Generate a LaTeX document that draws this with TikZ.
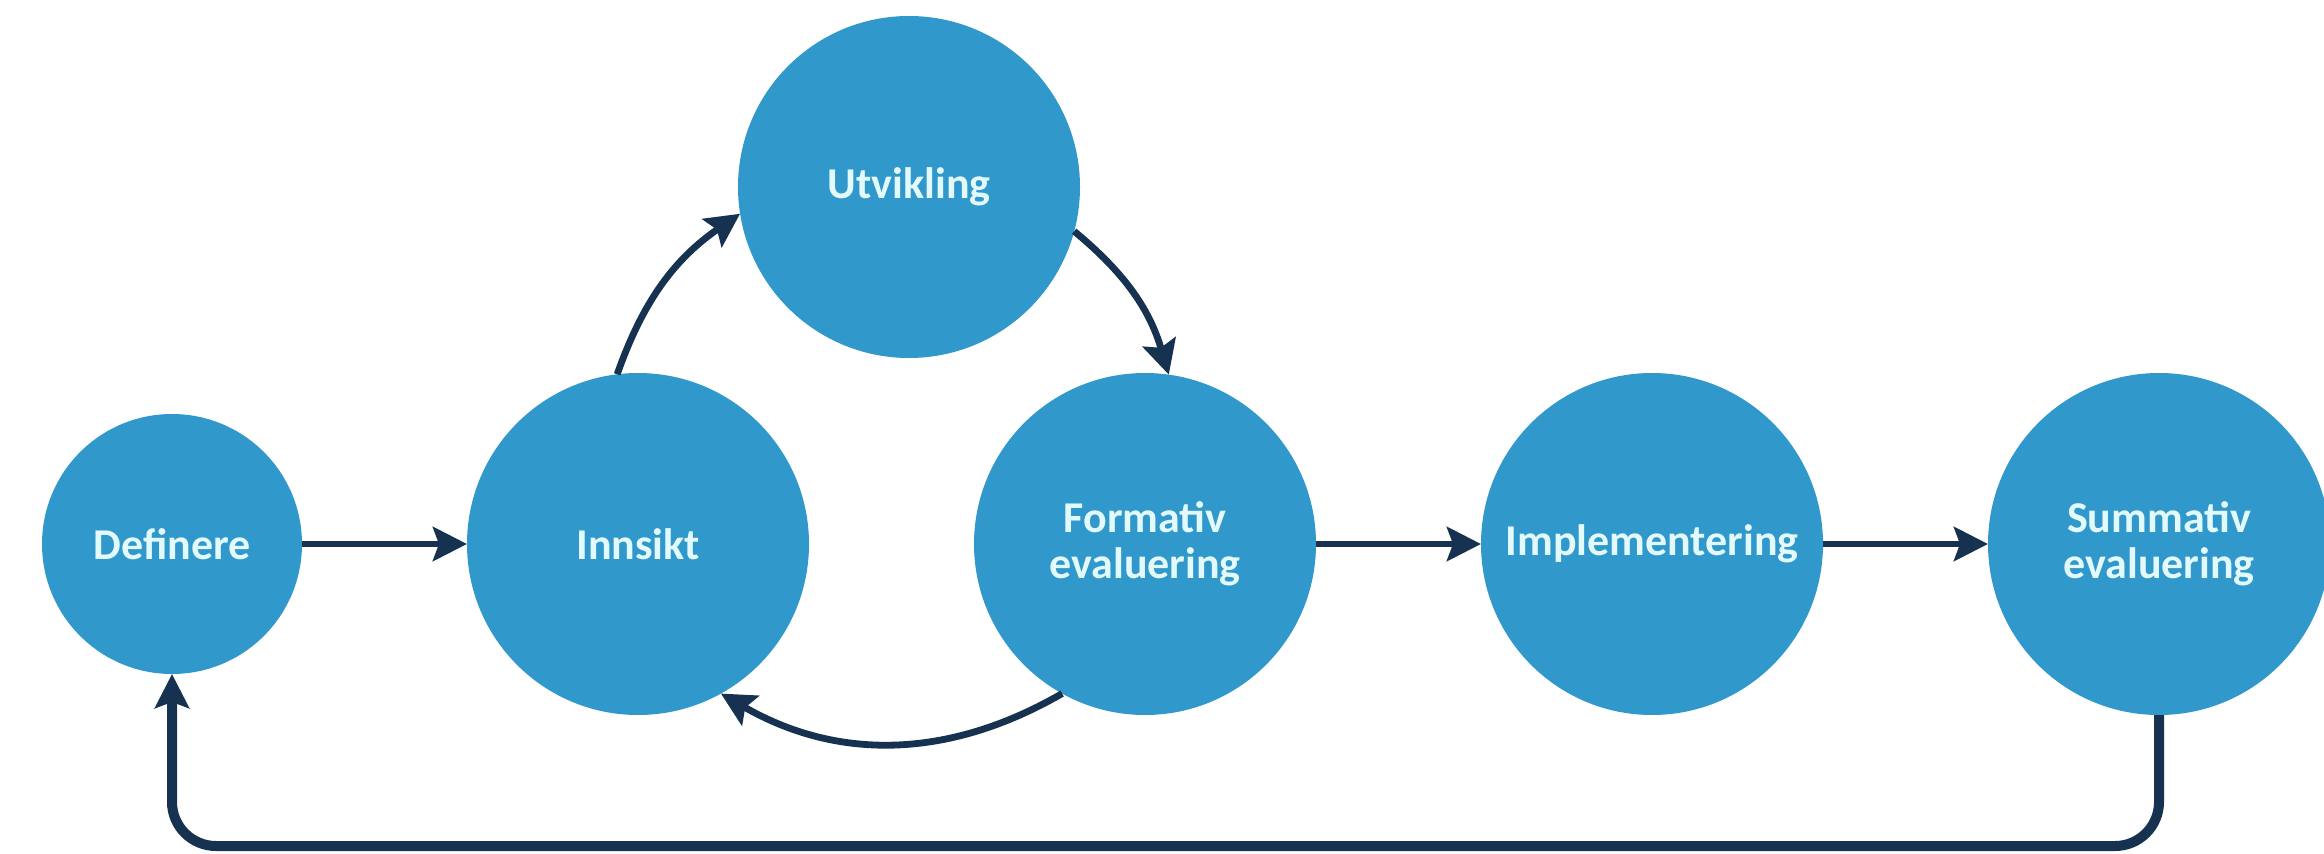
\documentclass[tikz,border=0pt]{standalone}
\usepackage{fontspec}
\setmainfont{Carlito}
\usetikzlibrary{positioning, arrows.meta}
\definecolor{fasebla}{RGB}{49,152,204}
\definecolor{pilbla}{RGB}{22,50,80}
\definecolor{fasetekst}{RGB}{226,250,252}

\begin{document}
\begin{tikzpicture}[x=0.5pt, y=0.5pt, node distance=82.5pt,
    fase/.style={circle, fill=fasebla, text=fasetekst, minimum size=171pt,
      inner sep=0pt, outer sep=0pt, align=center,
      font=\fontsize{22pt}{23pt}\selectfont\bfseries},
    pil/.style={-{Stealth[length=17pt, width=17pt, inset=3pt, fill=pilbla]}, draw=pilbla, line width=3.4pt},
    retur/.style={pil, line width=5pt, rounded corners=22pt}]
    \useasboundingbox (0,0) rectangle (2324,853);
    \node[fase, minimum size=130pt] (definere) at (172,309) {Definere};
    \node[fase, right=of definere] (innsikt) {Innsikt};
    \node[fase] (utvikling) at (909,666) {Utvikling};
    \node[fase, right=of innsikt] (formativ) {Formativ\\evaluering};
    \node[fase, right=of formativ] (implementering) {Implementering};
    \node[fase, right=of implementering] (summativ) {Summativ\\evaluering};
    \coordinate (bunn) at (1160,7);
    \draw[pil] (definere) -- (innsikt);
    \draw[pil] (innsikt.97) to[bend left=18] (utvikling.189);
    \draw[pil] (utvikling.345) to[bend left=17] (formativ.82);
    \draw[pil] (formativ.241) to[bend left=30] (innsikt.299);
    \draw[pil] (formativ) -- (implementering);
    \draw[pil] (implementering) -- (summativ);
    % tilbake til start
    \draw[retur] (summativ.south) |- (bunn) -| (definere.south);
  \end{tikzpicture}
\end{document}
